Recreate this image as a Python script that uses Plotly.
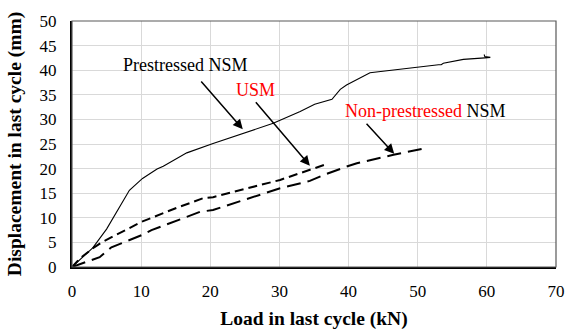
import plotly.graph_objects as go

# Prestressed NSM (solid)
pre_x = [0, 1.2, 3.0, 5.0, 8.3, 10.2, 12.3, 13.2, 16.6, 20.4, 29.1, 33.0, 35.1, 37.6, 38.3, 38.8, 39.7, 43.1, 53.0, 53.4, 53.7, 56.6, 59.7, 60.5, 59.7, 59.6]
pre_y = [0, 1.6, 3.9, 7.7, 15.6, 18.0, 19.9, 20.5, 23.2, 25.1, 29.2, 31.6, 33.1, 34.1, 35.3, 36.1, 37.0, 39.5, 41.1, 41.1, 41.4, 42.2, 42.5, 42.6, 42.8, 43.2]

# USM (short dash)
usm_x = [0, 1.2, 3.2, 4.4, 10.1, 14.9, 19.0, 20.4, 30.1, 34.4, 36.6]
usm_y = [0, 1.8, 4.0, 5.1, 9.2, 11.9, 14.0, 14.2, 17.7, 19.7, 20.8]

# Non-prestressed NSM (long dash)
np_x = [0, 4.0, 5.7, 10.1, 11.5, 18.5, 20.4, 30.1, 34.4, 36.4, 39.7, 41.2, 46.5, 50.6]
np_y = [0, 2.0, 4.0, 6.5, 7.5, 11.2, 11.6, 16.0, 17.5, 18.7, 20.4, 21.1, 22.8, 24.0]

x_ticks = [0, 10, 20, 30, 40, 50, 60, 70]
y_ticks = [0, 5, 10, 15, 20, 25, 30, 35, 40, 45, 50]

FONT = "Liberation Serif"

fig = go.Figure()
fig.add_trace(go.Scatter(x=pre_x, y=pre_y, mode="lines",
                         line=dict(color="black", width=1.1), showlegend=False))
fig.add_trace(go.Scatter(x=usm_x, y=usm_y, mode="lines",
                         line=dict(color="black", width=2, dash="9px,5px"), showlegend=False))
fig.add_trace(go.Scatter(x=np_x, y=np_y, mode="lines",
                         line=dict(color="black", width=2, dash="14px,7px"), showlegend=False))

# labels
fig.add_annotation(x=16.4, y=41.1, text="Prestressed NSM", showarrow=False,
                   font=dict(family=FONT, size=18, color="black"))
fig.add_annotation(x=26.5, y=36.0, text="USM", showarrow=False,
                   font=dict(family=FONT, size=18, color="red"))
fig.add_annotation(x=51.1, y=31.7,
                   text='<span style="color:red">Non-prestressed</span> NSM',
                   showarrow=False, font=dict(family=FONT, size=18, color="black"))

# arrows
for (hx, hy, tx, ty) in [(24.7, 28.0, 18.5, 38.0), (34.4, 20.6, 26.4, 33.8), (46.6, 23.0, 42.4, 29.4)]:
    fig.add_annotation(x=hx, y=hy, ax=tx, ay=ty, xref="x", yref="y", axref="x", ayref="y",
                       text="", showarrow=True, arrowhead=2, arrowsize=1.3, arrowwidth=1.5,
                       arrowcolor="black")

# box (top/right gray)
fig.add_shape(type="rect", xref="paper", yref="paper", x0=0, y0=0, x1=1, y1=1,
              line=dict(color="#595959", width=1.2), layer="above")

fig.update_layout(
    width=566, height=330,
    margin=dict(l=72, r=10, t=21, b=63, autoexpand=False),
    plot_bgcolor="white", paper_bgcolor="white",
    font=dict(family=FONT, size=17, color="black"),
    xaxis=dict(range=[0, 70], tickvals=x_ticks, showgrid=True, gridcolor="#d9d9d9", gridwidth=1,
               zeroline=False, showline=True, linecolor="black", linewidth=2, automargin=False,
               ticks="", ticklabelstandoff=8, tickfont=dict(family=FONT, size=17),
               title=dict(text="<b>Load in last cycle (kN)</b>", font=dict(family=FONT, size=19.5), standoff=11)),
    yaxis=dict(range=[0, 50], tickvals=y_ticks, showgrid=True, gridcolor="#d9d9d9", gridwidth=1,
               zeroline=False, showline=True, linecolor="black", linewidth=2, automargin=False,
               ticks="", ticklabelstandoff=10, tickfont=dict(family=FONT, size=17),
               title=dict(text="<b>Displacement in last cycle (mm)</b>", font=dict(family=FONT, size=19.5), standoff=13)),
)

fig.write_html("out.html")
